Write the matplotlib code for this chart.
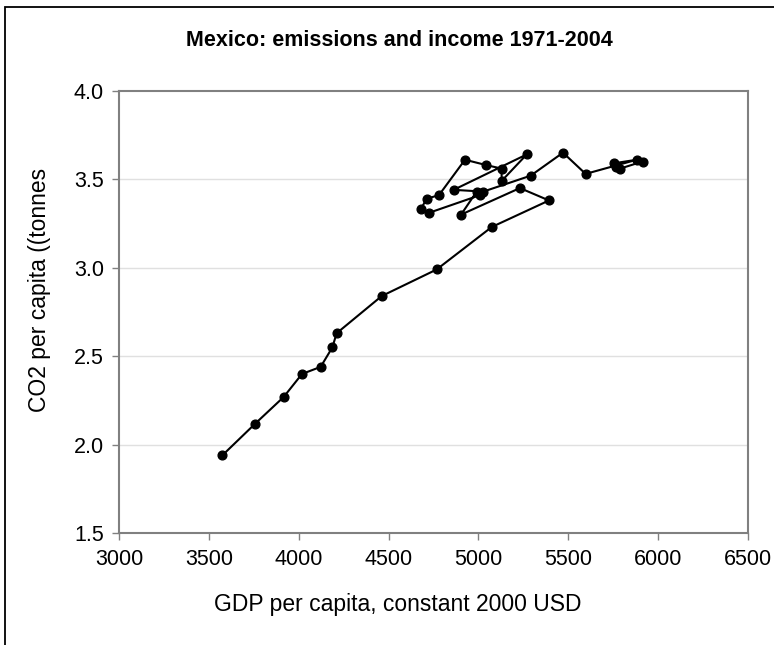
import matplotlib
matplotlib.use("Agg")
import matplotlib.pyplot as plt
from matplotlib.patches import Rectangle

# Mexico 1971-2004
years = list(range(1971, 2005))
gdp = [3574, 3758, 3916, 4018, 4122, 4187, 4211, 4462, 4768, 5075,
       5394, 5232, 4904, 4991, 5010, 4725, 4679, 4713, 4781, 4926,
       5043, 5130, 5130, 5270, 4863, 5028, 5292, 5472, 5598, 5883,
       5756, 5767, 5790, 5916]
co2 = [1.94, 2.12, 2.27, 2.40, 2.44, 2.55, 2.63, 2.84, 2.99, 3.23,
       3.38, 3.45, 3.30, 3.43, 3.41, 3.31, 3.33, 3.39, 3.41, 3.61,
       3.58, 3.56, 3.49, 3.64, 3.44, 3.43, 3.52, 3.65, 3.53, 3.61,
       3.59, 3.57, 3.56, 3.60]

xticks = [3000, 3500, 4000, 4500, 5000, 5500, 6000, 6500]
yticks = [1.5, 2.0, 2.5, 3.0, 3.5, 4.0]

plt.rcParams['font.family'] = ['Liberation Sans', 'DejaVu Sans']

fig = plt.figure(figsize=(7.74, 6.45), dpi=100)
ax = fig.add_axes([0.1541, 0.1732, 0.8117, 0.6862])

# outer chart frame (cut off on the right and bottom like the reference)
fig.patches.append(Rectangle((5 / 774, -0.2), 1.5, 1.2 - 7 / 645,
                             transform=fig.transFigure, fill=False,
                             edgecolor='black', linewidth=1.3))

ax.plot(gdp, co2, color='black', linewidth=1.5, marker='o',
        markersize=6.3, zorder=3)

ax.set_xlim(3000, 6500)
ax.set_ylim(1.5, 4.0)
ax.set_xticks(xticks)
ax.set_yticks(yticks)
ax.set_xticklabels([str(v) for v in xticks])
ax.set_yticklabels(['%.1f' % v for v in yticks])
ax.tick_params(direction='out', length=5, width=1, color='#808080',
               labelsize=15.5, pad=6)

for v in yticks[1:-1]:
    ax.axhline(v, color='#e0e0e0', linewidth=1, zorder=1)

for s in ax.spines.values():
    s.set_color('#808080')
    s.set_linewidth(1.5)

fig.text(399 / 774, 1 - 40 / 645, 'Mexico: emissions and income 1971-2004',
         ha='center', va='center', fontsize=15.5, fontweight='bold')
fig.text(398 / 774, 1 - 604 / 645, 'GDP per capita, constant 2000 USD',
         ha='center', va='center', fontsize=16.5)
fig.text(40 / 774, 1 - 290 / 645, 'CO2 per capita ((tonnes',
         ha='center', va='center', fontsize=16.5, rotation=90)

fig.savefig('out.png', dpi=100)
